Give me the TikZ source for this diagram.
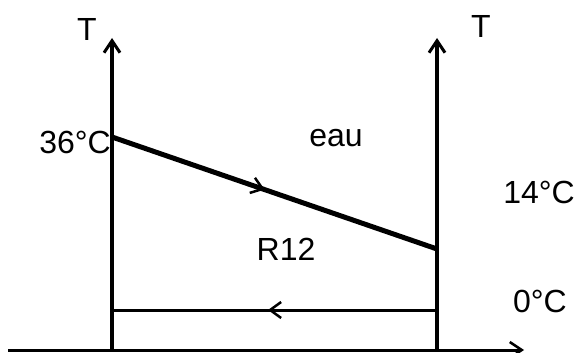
\documentclass[tikz,border=0pt]{standalone}
\usepackage{fontspec}
\setmainfont{Liberation Sans}
\usetikzlibrary{arrows.meta,decorations.markings}
\begin{document}
\begin{tikzpicture}[x=1pt,y=-1pt,
  lbl/.style={inner sep=0pt,font=\fontsize{32}{34}\selectfont},
  axis/.style={line width=4pt,-{Straight Barb[length=12pt,width=16pt,line width=3pt]}},
  midarrow/.style={postaction={decorate},decoration={markings,mark=at position #1 with {\arrow{Straight Barb[length=11pt,width=16pt,line width=2.5pt]}}}}]
\useasboundingbox (0,0) rectangle (576,353);
\coordinate (L0) at (112,350);
\coordinate (Ltop) at (112,38);
\coordinate (R0) at (437,350);
\coordinate (Rtop) at (437,38);
\coordinate (X0) at (8,350);
\coordinate (X1) at (524,350);
\coordinate (A) at (112,137);
\coordinate (B) at (437,249);
\coordinate (C) at (437,310);
\coordinate (D) at (112,310);
\draw[axis] (L0) -- (Ltop);
\draw[axis] (R0) -- (Rtop);
\draw[line width=3pt,-{Straight Barb[length=12pt,width=16pt,line width=2.5pt]}] (X0) -- (X1);
\draw[line width=5pt,midarrow=0.47] (A) -- (B);
\draw[line width=3pt,midarrow=0.52] (C) -- (D);
\node[lbl] (tl) at (87,29) {T};
\node[lbl] (tr) at (481,26) {T};
\node[lbl,anchor=east] (t36) at (111,142) {36°C};
\node[lbl] (eau) at (336,138) {eau};
\node[lbl] (t14) at (539,192) {14°C};
\node[lbl] (r12) at (286,249) {R12};
\node[lbl] (t0) at (540,301) {0°C};
\end{tikzpicture}
\end{document}
